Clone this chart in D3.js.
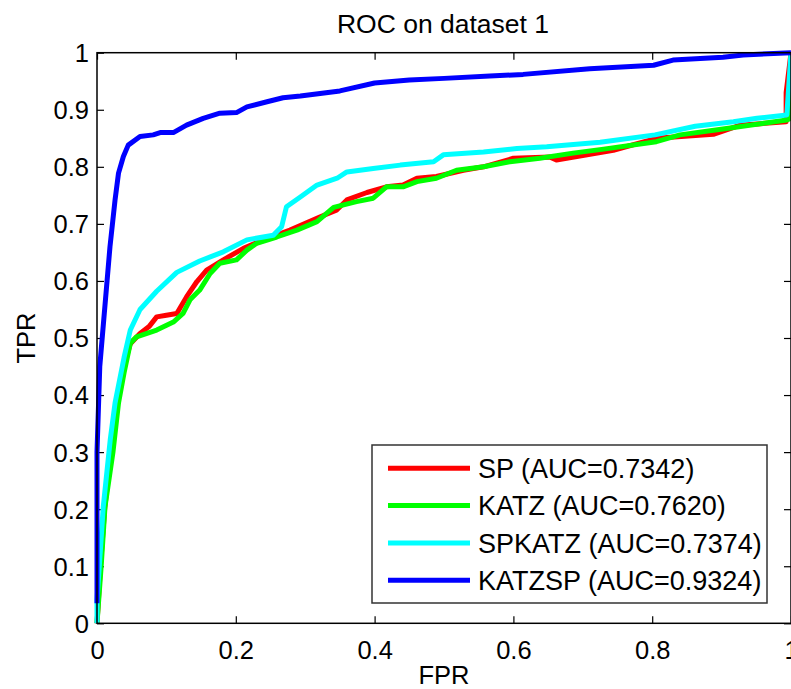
<!DOCTYPE html>
<html>
<head>
<meta charset="utf-8">
<script src="https://cdn.jsdelivr.net/npm/d3@7"></script>
<style>
  body { margin: 0; background: #fff; }
  svg { display: block; }
  text { font-family: "Liberation Sans", Arial, sans-serif; fill: #000; }
</style>
</head>
<body>
<svg id="chart" width="791" height="689"></svg>
<script>
// ROC points, [FPR, TPR]
const spPoints = [
  [0, 0], [0.005, 0.1], [0.011, 0.2], [0.02, 0.3], [0.028, 0.39], [0.036, 0.44], [0.048, 0.49],
  [0.062, 0.508], [0.075, 0.52], [0.086, 0.537], [0.1, 0.54], [0.115, 0.543], [0.129, 0.572],
  [0.144, 0.599], [0.158, 0.619], [0.182, 0.637], [0.211, 0.657], [0.24, 0.672], [0.278, 0.689],
  [0.321, 0.712], [0.345, 0.724], [0.36, 0.742], [0.389, 0.755], [0.417, 0.765], [0.441, 0.768],
  [0.461, 0.78], [0.489, 0.783], [0.528, 0.794], [0.557, 0.8], [0.6, 0.815], [0.653, 0.817],
  [0.662, 0.812], [0.744, 0.829], [0.806, 0.85], [0.888, 0.857], [0.927, 0.873], [0.993, 0.879],
  [0.993, 0.93], [1, 1]
]
const katzPoints = [
  [0, 0], [0.006, 0.1], [0.0115, 0.204], [0.023, 0.3], [0.031, 0.386], [0.039, 0.439],
  [0.048, 0.491], [0.057, 0.502], [0.086, 0.514], [0.11, 0.528], [0.124, 0.543], [0.134, 0.567],
  [0.148, 0.584], [0.163, 0.613], [0.177, 0.631], [0.201, 0.637], [0.216, 0.654], [0.23, 0.666],
  [0.259, 0.677], [0.288, 0.689], [0.317, 0.704], [0.341, 0.729], [0.374, 0.739], [0.398, 0.745],
  [0.417, 0.765], [0.441, 0.765], [0.461, 0.774], [0.489, 0.78], [0.518, 0.794], [0.557, 0.8],
  [0.595, 0.809], [0.638, 0.815], [0.686, 0.824], [0.73, 0.831], [0.806, 0.844], [0.84, 0.856],
  [0.907, 0.867], [0.994, 0.882], [1, 0.885], [1, 1]
]
const spkatzPoints = [
  [0, 0], [0, 0.04], [0.009, 0.204], [0.019, 0.321], [0.026, 0.386], [0.039, 0.466],
  [0.048, 0.514], [0.062, 0.55], [0.086, 0.582], [0.115, 0.615], [0.148, 0.635], [0.182, 0.651],
  [0.216, 0.672], [0.254, 0.68], [0.266, 0.695], [0.273, 0.73], [0.293, 0.747], [0.317, 0.768],
  [0.346, 0.78], [0.36, 0.791], [0.398, 0.797], [0.437, 0.803], [0.485, 0.809], [0.499, 0.821],
  [0.557, 0.826], [0.605, 0.832], [0.648, 0.835], [0.725, 0.843], [0.804, 0.856], [0.862, 0.871],
  [0.917, 0.879], [0.951, 0.885], [0.994, 0.891], [1, 1]
]
const katzspPoints = [
  [0, 0.035], [0, 0.3], [0.004, 0.45], [0.0187, 0.66], [0.026, 0.742], [0.031, 0.789],
  [0.038, 0.818], [0.045, 0.838], [0.062, 0.853], [0.081, 0.856], [0.091, 0.86], [0.11, 0.86],
  [0.129, 0.873], [0.153, 0.885], [0.177, 0.894], [0.201, 0.895], [0.216, 0.905], [0.245, 0.914],
  [0.268, 0.921], [0.293, 0.924], [0.35, 0.933], [0.4, 0.947], [0.45, 0.952], [0.5, 0.955],
  [0.566, 0.959], [0.614, 0.962], [0.71, 0.972], [0.802, 0.978], [0.83, 0.987], [0.902, 0.992],
  [0.931, 0.996], [1, 1]
]

const seriesNames = ['SP (AUC=0.7342)', 'KATZ (AUC=0.7620)', 'SPKATZ (AUC=0.7374)', 'KATZSP (AUC=0.9324)']
const seriesColors = ['#ff0000', '#00ff00', '#00ffff', '#0000ff']
const seriesData = [spPoints, katzPoints, spkatzPoints, katzspPoints]

const xTicks = [0, 0.2, 0.4, 0.6, 0.8, 1]
const yTicks = [0, 0.1, 0.2, 0.3, 0.4, 0.5, 0.6, 0.7, 0.8, 0.9, 1]

const svg = d3.select('#chart')
const MARGINS = { left: 97, right: 791, top: 52.7, bottom: 623.3 }
const FONT = 25.5

const xScale = d3.scaleLinear().domain([0, 1]).range([MARGINS.left, MARGINS.right])
const yScale = d3.scaleLinear().domain([0, 1]).range([MARGINS.bottom, MARGINS.top])

// axes with inward ticks
const xAxis = d3.axisBottom(xScale).tickValues(xTicks).tickSize(-7).tickPadding(15).tickFormat(String)
const yAxis = d3.axisLeft(yScale).tickValues(yTicks).tickSize(-7).tickPadding(15).tickFormat(String)
const xAxisTop = d3.axisTop(xScale).tickValues(xTicks).tickSize(-7).tickFormat('')
const yAxisRight = d3.axisRight(yScale).tickValues(yTicks).tickSize(-7).tickFormat('')

const styleAxis = g => {
  g.select('.domain').remove()
  g.selectAll('.tick line').attr('stroke', '#000').attr('stroke-width', 1.2)
  g.selectAll('.tick text').attr('font-size', FONT).attr('fill', '#000')
    .style('font-family', '"Liberation Sans", Arial, sans-serif')
}

svg.append('g').attr('transform', `translate(0, ${MARGINS.bottom})`).call(xAxis).call(styleAxis)
  .selectAll('.tick text').attr('dy', '0.8em')
svg.append('g').attr('transform', `translate(${MARGINS.left}, 0)`).call(yAxis).call(styleAxis)
  .selectAll('.tick text').attr('dy', '0.35em').attr('dx', 7)
svg.append('g').attr('transform', `translate(0, ${MARGINS.top})`).call(xAxisTop).call(styleAxis)
svg.append('g').attr('transform', `translate(${MARGINS.right}, 0)`).call(yAxisRight).call(styleAxis)

// curves
const lineGen = d3.line()
  .x(d => xScale(d[0]))
  .y(d => yScale(d[1]))

svg.append('g').selectAll('path.roc')
  .data(seriesData)
  .join('path')
  .attr('class', 'roc')
  .attr('d', d => lineGen(d))
  .attr('fill', 'none')
  .attr('stroke', (d, i) => seriesColors[i])
  .attr('stroke-width', 5)
  .attr('stroke-linejoin', 'round')

// box
svg.append('rect')
  .attr('x', MARGINS.left)
  .attr('y', MARGINS.top)
  .attr('width', MARGINS.right - MARGINS.left)
  .attr('height', MARGINS.bottom - MARGINS.top)
  .attr('fill', 'none')
  .attr('stroke', '#000')
  .attr('stroke-width', 1.5)

// title & labels
svg.append('text')
  .attr('x', 443)
  .attr('y', 33)
  .attr('text-anchor', 'middle')
  .attr('font-size', 26.5)
  .text('ROC on dataset 1')

svg.append('text')
  .attr('x', 444)
  .attr('y', 684)
  .attr('text-anchor', 'middle')
  .attr('font-size', FONT)
  .text('FPR')

svg.append('text')
  .attr('transform', `translate(35, ${(MARGINS.top + MARGINS.bottom) / 2}) rotate(-90)`)
  .attr('text-anchor', 'middle')
  .attr('font-size', FONT)
  .text('TPR')

// legend
const legend = svg.append('g').attr('transform', 'translate(372, 445)')
legend.append('rect')
  .attr('width', 395)
  .attr('height', 158)
  .attr('fill', '#fff')
  .attr('stroke', '#333')
  .attr('stroke-width', 1.5)

const rows = legend.selectAll('g.row')
  .data(seriesNames)
  .join('g')
  .attr('class', 'row')
  .attr('transform', (d, i) => `translate(0, ${23.3 + i * 37.3})`)

rows.append('line')
  .attr('x1', 16)
  .attr('x2', 98)
  .attr('stroke', (d, i) => seriesColors[i])
  .attr('stroke-width', 5)

rows.append('text')
  .attr('x', 106)
  .attr('dy', '0.36em')
  .attr('font-size', 27)
  .text(d => d)
</script>
</body>
</html>
